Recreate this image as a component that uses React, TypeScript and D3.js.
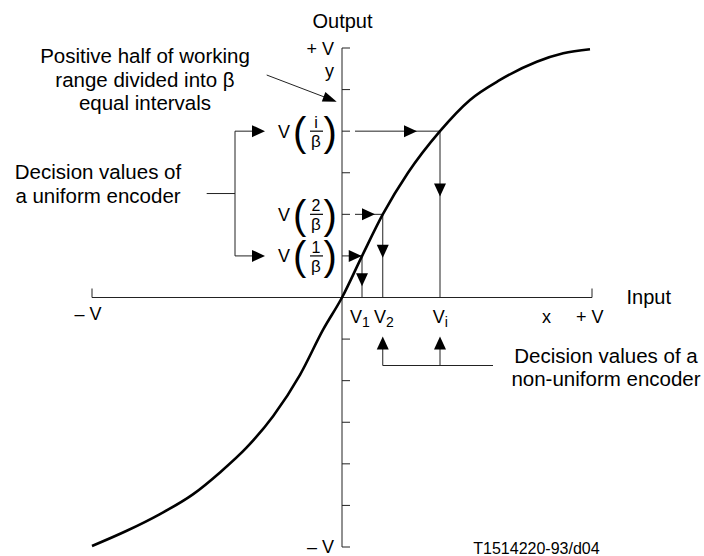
import * as d3 from 'd3';

const W = 704;
const H = 556;
const FONT = '"Liberation Sans", Arial, sans-serif';

// transfer characteristic (units of V)
const curveIn = [-1, -0.861, -0.728, -0.595, -0.488, -0.381, -0.275, -0.168, -0.075, 0, 0.08, 0.163, 0.264, 0.392, 0.512, 0.632, 0.779, 0.885, 0.992];
const curveOut = [-0.996, -0.935, -0.868, -0.788, -0.701, -0.601, -0.475, -0.31, -0.128, 0, 0.166, 0.333, 0.5, 0.667, 0.792, 0.872, 0.945, 0.979, 0.995];

// output axis divided into beta = 6 equal intervals each side
const outputTicks = [1, 5 / 6, 4 / 6, 3 / 6, 2 / 6, 1 / 6, -1 / 6, -2 / 6, -3 / 6, -4 / 6, -5 / 6, -1];

// decision levels V(k/beta) and matching inputs V_k
const levelNames = ['1', '2', 'i'];
const levelOutput = [1 / 6, 2 / 6, 4 / 6];
const levelInput = [0.08, 0.163, 0.392];
const levelArrowIn = [0.079, 0.132, 0.3];
const levelArrowOut = [0.045, 0.159, 0.405];
const nonUniformMarked = ['2', 'i'];

const x = d3.scaleLinear().domain([-1, 1]).range([92, 592]);
const y = d3.scaleLinear().domain([-1, 1]).range([547, 48]);

function arrow(tx: number, ty: number, dir: 'r' | 'd' | 'u', len = 13, half = 6) {
  if (dir === 'r') return `M${tx},${ty}L${tx - len},${ty - half}L${tx - len},${ty + half}Z`;
  if (dir === 'd') return `M${tx},${ty}L${tx - half},${ty - len}L${tx + half},${ty - len}Z`;
  return `M${tx},${ty}L${tx - half},${ty + len}L${tx + half},${ty + len}Z`;
}

export default function App() {
  const x0 = x(0);
  const y0 = y(0);
  const pts = curveIn.map((v, i) => [v, curveOut[i]] as [number, number]);
  const line = d3.line<[number, number]>().x(d => x(d[0])).y(d => y(d[1])).curve(d3.curveMonotoneX);

  const yTop = y(levelOutput[2]);
  const yBot = y(levelOutput[0]);
  const bx = 235;

  // pointer from text to axis
  const p1 = [266.7, 75];
  const p2 = [336.7, 101.7];
  const ang = Math.atan2(p2[1] - p1[1], p2[0] - p1[0]);

  const txt = { fontFamily: FONT, fill: '#000' } as const;

  return (
    <svg width={W} height={H} style={{ position: 'absolute', left: 0, top: 0, background: '#fff' }}>
      {/* axes */}
      <g stroke="#222" strokeWidth={1} fill="none">
        <line x1={x(-1)} x2={x(1)} y1={y0} y2={y0} />
        <line x1={x(-1)} x2={x(-1)} y1={y0} y2={y0 - 9} />
        <line x1={x(1)} x2={x(1)} y1={y0} y2={y0 - 9} />
        <line x1={x0} x2={x0} y1={y(1)} y2={y(-1)} />
        {outputTicks.map((t, i) => (
          <line key={i} x1={x0} x2={x0 + 8} y1={y(t)} y2={y(t)} />
        ))}
      </g>

      {/* decision constructions */}
      {levelNames.map((n, i) => {
        const ly = y(levelOutput[i]);
        const lx = x(levelInput[i]);
        return (
          <g key={n}>
            <line x1={x0 + 13} x2={lx} y1={ly} y2={ly} stroke="#222" strokeWidth={1} />
            <line x1={lx} x2={lx} y1={ly} y2={y0} stroke="#222" strokeWidth={1} />
            <path d={arrow(x(levelArrowIn[i]), ly, 'r')} fill="#000" />
            <path d={arrow(lx, y(levelArrowOut[i]), 'd')} fill="#000" />
            <text x={278} y={ly + 6.5} fontSize={18} {...txt}>V</text>
            <text x={293} y={ly + 14.5} fontSize={40} {...txt}>(</text>
            <text x={323.5} y={ly + 14.5} fontSize={40} {...txt}>)</text>
            <text x={316} y={ly - 3} fontSize={16} textAnchor="middle" {...txt}>{n}</text>
            <line x1={310} x2={323} y1={ly} y2={ly} stroke="#000" strokeWidth={1.2} />
            <text x={316} y={ly + 16} fontSize={17} textAnchor="middle" {...txt}>β</text>
          </g>
        );
      })}

      {/* non-uniform encoder markers below the axis */}
      {levelNames.map((n, i) => nonUniformMarked.includes(n) ? (
        <g key={'nu' + n}>
          <line x1={x(levelInput[i])} x2={x(levelInput[i])} y1={y0 + 68} y2={y0 + 45} stroke="#222" strokeWidth={1} />
          <path d={arrow(x(levelInput[i]), y0 + 39, 'u')} fill="#000" />
        </g>
      ) : null)}
      <line x1={x(levelInput[1])} x2={493} y1={y0 + 68} y2={y0 + 68} stroke="#222" strokeWidth={1} />

      {/* uniform encoder bracket */}
      <g stroke="#222" strokeWidth={1} fill="none">
        <line x1={bx} x2={bx} y1={yTop} y2={yBot} />
        <line x1={bx} x2={258} y1={yTop} y2={yTop} />
        <line x1={bx} x2={258} y1={yBot} y2={yBot} />
        <line x1={206.7} x2={bx} y1={(yTop + yBot) / 2} y2={(yTop + yBot) / 2} />
        <line x1={p1[0]} y1={p1[1]} x2={p2[0] - 10 * Math.cos(ang)} y2={p2[1] - 10 * Math.sin(ang)} />
      </g>
      <path d={arrow(265, yTop, 'r')} fill="#000" />
      <path d={arrow(265, yBot, 'r')} fill="#000" />
      <path
        d={`M0,0L-14,-5L-14,5Z`}
        transform={`translate(${p2[0]},${p2[1]}) rotate(${(ang * 180) / Math.PI})`}
        fill="#000"
      />

      {/* characteristic */}
      <path d={line(pts) ?? ''} fill="none" stroke="#000" strokeWidth={2.6} />

      {/* axis labels */}
      <text x={342.5} y={28} fontSize={20} textAnchor="middle" {...txt}>Output</text>
      <text x={334} y={54.5} fontSize={18} textAnchor="end" {...txt}>+ V</text>
      <text x={334} y={77} fontSize={18} textAnchor="end" {...txt}>y</text>
      <text x={334} y={553} fontSize={18} textAnchor="end" {...txt}>– V</text>
      <text x={74.5} y={319.5} fontSize={18} {...txt}>– V</text>
      <text x={576} y={323} fontSize={18} {...txt}>+ V</text>
      <text x={542} y={323} fontSize={18} {...txt}>x</text>
      <text x={626.5} y={303.5} fontSize={20} {...txt}>Input</text>
      {levelNames.map((n, i) => (
        <text key={'v' + n} x={[350, 374, 432.7][i]} y={323.3} fontSize={18} {...txt}>
          V<tspan fontSize={14} dy={3.5}>{n}</tspan>
        </text>
      ))}

      {/* annotations */}
      <g fontSize={20.5} textAnchor="middle" {...txt}>
        <text x={145} y={62.7}>Positive half of working</text>
        <text x={145} y={86.5}>range divided into β</text>
        <text x={145} y={110}>equal intervals</text>
        <text x={98} y={179.3}>Decision values of</text>
        <text x={98} y={203.3}>a uniform encoder</text>
        <text x={606} y={362.5}>Decision values of a</text>
        <text x={606} y={385.5}>non-uniform encoder</text>
      </g>
      <text x={473.3} y={553.5} fontSize={16} {...txt}>T1514220-93/d04</text>
    </svg>
  );
}
